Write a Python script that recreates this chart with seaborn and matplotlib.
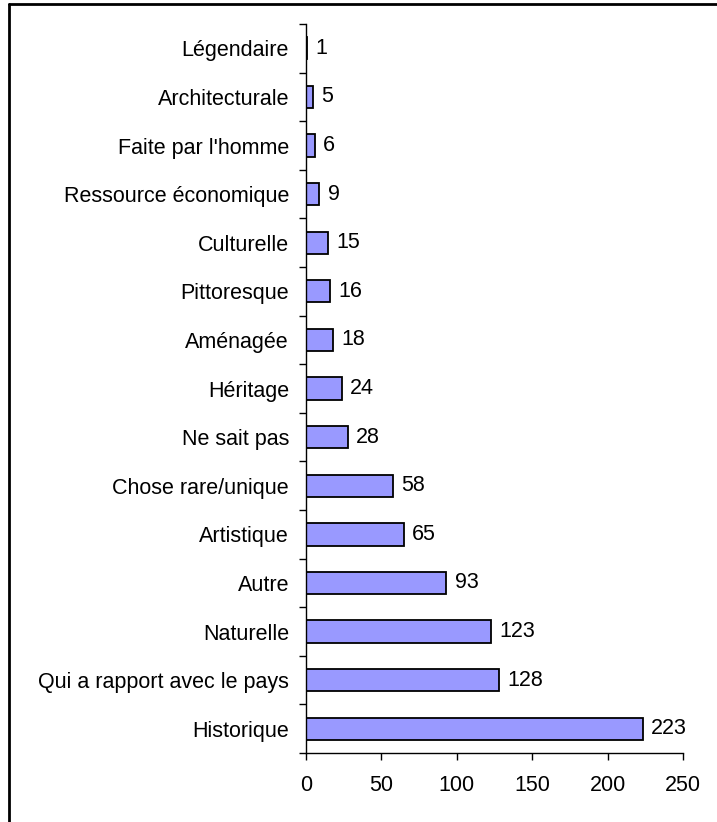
import matplotlib
matplotlib.use("Agg")
import matplotlib.pyplot as plt
import seaborn as sns
import pandas as pd
from matplotlib.ticker import MultipleLocator, FixedLocator
from matplotlib.lines import Line2D

# Data (top to bottom as in the chart)
categories = ["Légendaire", "Architecturale", "Faite par l'homme", "Ressource économique",
              "Culturelle", "Pittoresque", "Aménagée", "Héritage", "Ne sait pas",
              "Chose rare/unique", "Artistique", "Autre", "Naturelle",
              "Qui a rapport avec le pays", "Historique"]
counts = [1, 5, 6, 9, 15, 16, 18, 24, 28, 58, 65, 93, 123, 128, 223]

df = pd.DataFrame({"categorie": categories, "nombre": counts})

sns.set_style("white")
plt.rcParams['font.family'] = ['Liberation Sans', 'DejaVu Sans']
plt.rcParams['text.color'] = 'black'
plt.rcParams['xtick.color'] = 'black'
plt.rcParams['ytick.color'] = 'black'

fig = plt.figure(figsize=(7.17, 8.22), dpi=100)
ax = fig.add_axes([0.4264, 0.0839, 0.9530 - 0.4264, 0.9708 - 0.0839])

sns.barplot(data=df, x="nombre", y="categorie", order=categories, orient="h",
            color="#9999FF", saturation=1, edgecolor="black", linewidth=1.3,
            width=0.46, ax=ax)

# value labels
for cont in ax.containers:
    ax.bar_label(cont, labels=[str(v) for v in counts], padding=6, fontsize=15.5, color="black")

ax.set_xlim(0, 250)
ax.set_ylim(len(categories) - 0.5, -0.5)
ax.xaxis.set_major_locator(MultipleLocator(50))
ax.set_xlabel("")
ax.set_ylabel("")

# ticks between categories on the y axis
ax.yaxis.set_minor_locator(FixedLocator([i - 0.5 for i in range(len(categories) + 1)]))
ax.tick_params(axis="y", which="major", length=0, pad=12, labelsize=15.5, labelcolor="black")
ax.tick_params(axis="y", which="minor", length=5, width=1, color="black", direction="out", left=True)
ax.tick_params(axis="x", which="major", length=5, width=1, color="black", direction="out",
               bottom=True, pad=11, labelsize=15.5, labelcolor="black")

sns.despine(ax=ax, top=True, right=True)
for s in ["left", "bottom"]:
    ax.spines[s].set_color("black")
    ax.spines[s].set_linewidth(1)

# outer frame (top and left edges visible)
fig.add_artist(Line2D([0.0125, 1.0], [0.9955, 0.9955], color="black", lw=2, transform=fig.transFigure))
fig.add_artist(Line2D([0.0125, 0.0125], [0.0, 0.9955], color="black", lw=2, transform=fig.transFigure))

plt.savefig("out.png", dpi=100)
